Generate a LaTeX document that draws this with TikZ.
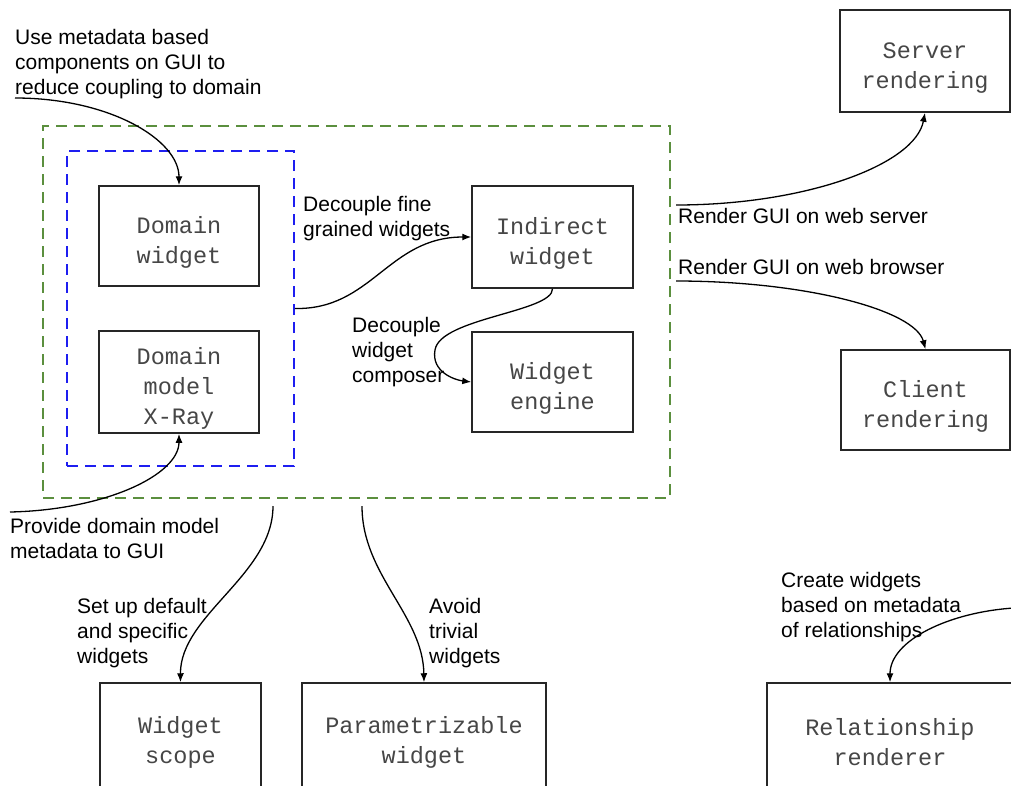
\documentclass[tikz,border=0pt]{standalone}
\usepackage{fontspec}
\setmainfont{Liberation Sans}
\newfontfamily\boxfont{Liberation Mono}
\usetikzlibrary{arrows.meta}

\definecolor{outergreen}{RGB}{91,143,62}
\definecolor{innerblue}{RGB}{30,30,240}
\definecolor{boxtext}{RGB}{70,70,70}

% tall invisible strut that lowers the text block inside a box
\newcommand{\toppad}{\rule{0pt}{30pt}}

\tikzset{
  compbox/.style={draw=black!85, line width=1.5pt, rectangle, inner sep=0pt,
    align=center, text=boxtext,
    font=\boxfont\fontsize{23.5}{30}\selectfont},
  note/.style={inner sep=0pt, align=left, anchor=base west,
    font=\fontsize{21}{25}\selectfont},
  flow/.style={draw=black, line width=1.3pt, -{Latex[length=9pt,width=7pt]}},
  zone/.style={rectangle, dashed, dash pattern=on 11pt off 7pt,
    line width=1.5pt, inner sep=0pt},
}

\begin{document}
\begin{tikzpicture}[x=1pt, y=-1pt]
\useasboundingbox (0,0) rectangle (1011,785);
\clip (0,0) rectangle (1011,785);

% dashed grouping frames
\node[zone, draw=outergreen, minimum width=627pt, minimum height=372pt] (outer) at (356.5,312) {};
\node[zone, draw=innerblue, minimum width=227pt, minimum height=315pt] (inner) at (180.5,308.5) {};

% components
\node[compbox, minimum width=160pt, minimum height=100pt] (DW) at (179,236) {\toppad Domain\\widget};
\node[compbox, minimum width=160pt, minimum height=102pt] (XR) at (179,382) {\toppad Domain\\model\\X-Ray};
\node[compbox, minimum width=161pt, minimum height=102pt] (IW) at (552.5,237) {\toppad Indirect\\widget};
\node[compbox, minimum width=161pt, minimum height=100pt] (WE) at (552.5,382) {\toppad Widget\\engine};
\node[compbox, minimum width=170pt, minimum height=102pt] (SR) at (925,61) {\toppad Server\\rendering};
\node[compbox, minimum width=169pt, minimum height=100pt] (CR) at (925.5,400) {\toppad Client\\rendering};
\node[compbox, minimum width=161pt, minimum height=106pt] (WS) at (180.5,736) {\toppad Widget\\scope};
\node[compbox, minimum width=244pt, minimum height=106pt] (PW) at (424,736) {\toppad Parametrizable\\widget};
\node[compbox, minimum width=246pt, minimum height=106pt] (RR) at (890,736) {\toppad Relationship\\renderer};

% free ends of the connectors
\coordinate (useStart) at (15,98);
\coordinate (provStart) at (10,512);
\coordinate (srvStart) at (676,205);
\coordinate (cliStart) at (676,281);
\coordinate (scopeStart) at (273,506);
\coordinate (paramStart) at (362,506);
\coordinate (relStart) at (1014,608);

% labels (anchored at the baseline of their last line)
\node[note] (useTxt) at (15,94) {Use metadata based\\components on GUI to\\reduce coupling to domain};
\node[note] (provTxt) at (10,558) {Provide domain model\\metadata to GUI};
\node[note] (fineTxt) at (303,236) {Decouple fine\\grained widgets};
\node[note] (compTxt) at (352,382) {Decouple\\widget\\composer};
\node[note] (srvTxt) at (678,223) {Render GUI on web server};
\node[note] (cliTxt) at (678,274) {Render GUI on web browser};
\node[note] (scopeTxt) at (77,663) {Set up default\\and specific\\widgets};
\node[note] (paramTxt) at (429,663) {Avoid\\trivial\\widgets};
\node[note] (relTxt) at (781,637) {Create widgets\\based on metadata\\of relationships};

% connectors
\draw[flow] (useStart) .. controls (110,98) and (179,140) .. (DW.north);
\draw[flow] (provStart) .. controls (105,510) and (179,475) .. (XR.south);
\draw[flow] (inner.east) .. controls (372,310) and (388,237) .. (IW.west);
\draw[flow] (IW.south) .. controls (553,312) and (440,318) .. (435,350)
            .. controls (431,372) and (455,380) .. (WE.west);
\draw[flow] (srvStart) .. controls (805,205) and (915,165) .. (SR.south);
\draw[flow] (cliStart) .. controls (805,281) and (915,310) .. (CR.north);
\draw[flow] (scopeStart) .. controls (273,575) and (180,615) .. (WS.north);
\draw[flow] (paramStart) .. controls (362,575) and (423,615) .. (PW.north);
\draw[flow] (relStart) .. controls (950,612) and (890,640) .. (RR.north);
\end{tikzpicture}
\end{document}
